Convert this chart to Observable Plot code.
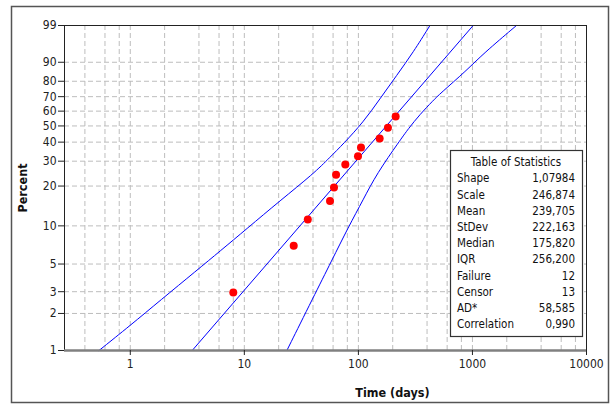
<!DOCTYPE html>
<html>
<head>
<meta charset="utf-8">
<script src="https://cdn.jsdelivr.net/npm/d3@7"></script>
<script src="https://cdn.jsdelivr.net/npm/@observablehq/plot@0.6"></script>
<style>
  html, body { margin: 0; padding: 0; background: white; }
</style>
</head>
<body>
<div id="chart"></div>
<script>
// ---- data ----
const xTicks = [1, 10, 100, 1000, 10000];
const xGrid = [0.4, 0.6, 0.8, 1, 2, 4, 6, 8, 10, 20, 40, 60, 80, 100, 200, 400, 600, 800, 1000, 2000, 4000, 6000, 8000];
const yTicks = [1, 2, 3, 5, 10, 20, 30, 40, 50, 60, 70, 80, 90, 99];
const yGrid = [2, 3, 5, 10, 20, 30, 40, 50, 60, 70, 80, 90];

const failTime = [8.0, 27.1, 36.0, 56.4, 61.1, 63.7, 76.8, 99.2, 105.4, 153.6, 181.6, 212.2];
const failPct  = [2.95, 6.99, 11.2, 15.5, 19.5, 24.1, 28.5, 32.4, 37.0, 42.1, 48.8, 56.3];

const fitTime = [3.49, 1015];
const fitPct  = [1, 99];

const upperTime = [0.532, 1.0, 1.83, 3.84, 6.14, 10.5, 20.6, 40.3, 56.4, 73.8, 110.4, 154.5, 216.5, 302.6, 424];
const upperPct  = [1, 1.60, 2.55, 4.46, 6.35, 9.49, 15.6, 24.5, 31.9, 39.0, 52.5, 68.5, 83.4, 93.8, 99];

const lowerTime = [23.6, 40.3, 58.4, 81.6, 110.4, 144.6, 231, 273.5, 346, 453, 518, 888, 1241, 2432];
const lowerPct  = [1, 2.71, 5.33, 9.76, 15.9, 24.5, 40.9, 48.1, 57.7, 67.4, 71.9, 86.1, 93.3, 99];

const statLabels = ["Shape", "Scale", "Mean", "StDev", "Median", "IQR", "Failure", "Censor", "AD*", "Correlation"];
const statValues = ["1,07984", "246,874", "239,705", "222,163", "175,820", "256,200", "12", "13", "58,585", "0,990"];

// Weibull probability transform
const wb = p => Math.log(-Math.log(1 - p / 100));
const inv = v => 100 * (1 - Math.exp(-Math.exp(v)));

const pts = (ts, ps) => ts.map((t, i) => ({t, p: ps[i]}));

const FONT = '"DejaVu Sans Condensed", "DejaVu Sans", sans-serif';
const gridStyle = {stroke: "#bdbdbd", strokeOpacity: 1, strokeDasharray: "5,3", strokeWidth: 1};

const svg = Plot.plot({
  width: 613,
  height: 405,
  marginLeft: 64,
  marginRight: 27,
  marginTop: 25,
  marginBottom: 55,
  style: {fontFamily: FONT, fontSize: "12px", color: "#222", background: "white"},
  x: {type: "log", domain: [0.265, 10000]},
  y: {type: "linear", domain: [wb(1), wb(99)]},
  marks: [
    Plot.gridX(xGrid, gridStyle),
    Plot.gridY(yGrid.map(wb), gridStyle),
    Plot.line(pts(upperTime, upperPct), {x: "t", y: d => wb(d.p), stroke: "#0000ff", strokeWidth: 1, curve: "basis"}),
    Plot.line(pts(lowerTime, lowerPct), {x: "t", y: d => wb(d.p), stroke: "#0000ff", strokeWidth: 1, curve: "basis"}),
    Plot.line(pts(fitTime, fitPct), {x: "t", y: d => wb(d.p), stroke: "#0000ff", strokeWidth: 1}),
    Plot.dot(pts(failTime, failPct), {x: "t", y: d => wb(d.p), r: 4, fill: "#ff0000", stroke: "none"}),
    Plot.frame({stroke: "#222", strokeWidth: 1}),
    Plot.ruleY([wb(1)], {stroke: "#808080", strokeWidth: 2.5}),
    Plot.axisX(xTicks, {tickSize: 5, tickPadding: 4, tickFormat: d => String(d), label: null, stroke: "#222", fontSize: 12}),
    Plot.axisY(yTicks.map(wb), {tickSize: 6, tickPadding: 2, tickFormat: v => String(Math.round(inv(v))), label: null, stroke: "#222", fontSize: 12}),
    Plot.text(["Time (days)"], {frameAnchor: "bottom", dx: 67, dy: 42, text: d => d, fontWeight: "bold", fontSize: 12.5, textAnchor: "middle", lineAnchor: "middle", fill: "#111"}),
    Plot.text(["Percent"], {frameAnchor: "left", dx: -42, text: d => d, rotate: -90, fontWeight: "bold", fontSize: 12.5, textAnchor: "middle", lineAnchor: "middle", fill: "#111"})
  ]
});

const root = d3.select(svg);
// outer border of the figure
root.insert("rect", ":first-child")
  .attr("x", 11.5).attr("y", 6.5).attr("width", 597).attr("height", 396)
  .attr("fill", "white").attr("stroke", "#555").attr("stroke-width", 1.5);

// Table of Statistics
const g = root.append("g").attr("font-family", FONT).attr("font-size", 11.5)
  .attr("fill", "#111").attr("text-anchor", "start");
g.append("rect").attr("x", 450.5).attr("y", 150.5).attr("width", 132).attr("height", 186)
  .attr("fill", "white").attr("stroke", "#333").attr("stroke-width", 1.2);
g.append("text").attr("x", 516).attr("y", 162).attr("dy", "0.35em")
  .attr("text-anchor", "middle").text("Table of Statistics");
statLabels.forEach((s, i) => {
  const y = 178.3 + i * 16.22;
  g.append("text").attr("x", 457).attr("y", y).attr("dy", "0.35em").attr("text-anchor", "start").text(s);
  g.append("text").attr("x", 575).attr("y", y).attr("dy", "0.35em").attr("text-anchor", "end").text(statValues[i]);
});

document.getElementById("chart").appendChild(svg);
</script>
</body>
</html>
